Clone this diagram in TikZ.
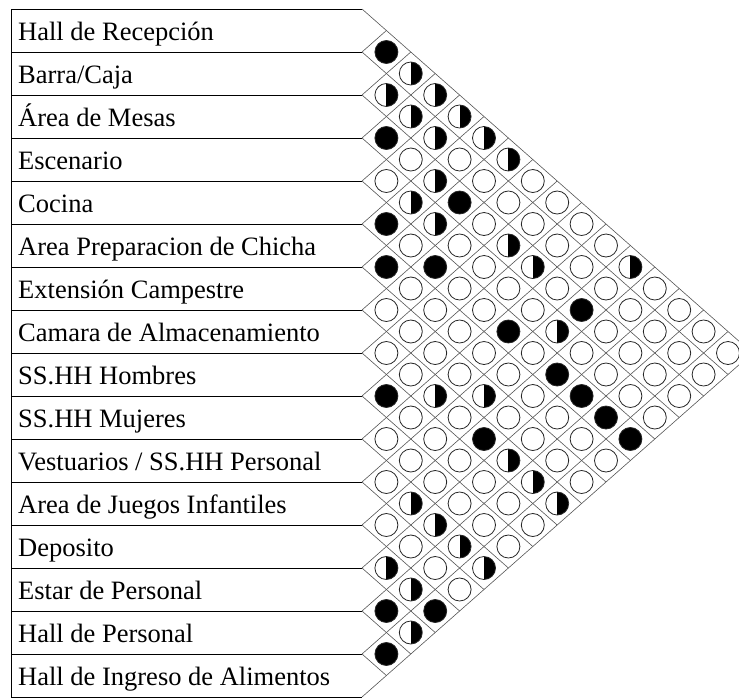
\documentclass[tikz,border=0pt]{standalone}
\usepackage{fontspec}
\setmainfont{Liberation Serif}
\usetikzlibrary{positioning,calc}
\definecolor{GridGray}{HTML}{555555}

\begin{document}
\begin{tikzpicture}[
  x=1pt, y=-1pt,
  rowline/.style={draw=black, line width=0.9pt},
  gridline/.style={draw=GridGray, line width=0.6pt},
  roomtxt/.style={anchor=base west, inner sep=0pt, font=\fontsize{26.5}{30}\selectfont},
  rel0/.style={circle, draw=black!85, fill=white, line width=0.8pt, minimum size=23pt, inner sep=0pt},
  rel1/.style={rel0, path picture={\fill[black] (path picture bounding box.north) rectangle (path picture bounding box.south east);}},
  rel2/.style={rel0, fill=black}
]
\useasboundingbox (0,0) rectangle (739,697);

% filas
\foreach \i in {0,...,16} \coordinate (b\i) at (362,{9+43*\i});
\foreach \i in {0,...,16} \draw[rowline] (11,{9+43*\i}) -- (b\i);
\draw[rowline] (11,9) -- (11,698);

\foreach \t [count=\n] in {Hall de Recepción, Barra/Caja, Área de Mesas, Escenario, Cocina,
  Area Preparacion de Chicha, Extensión Campestre, Camara de Almacenamiento,
  SS.HH Hombres, SS.HH Mujeres, Vestuarios / SS.HH Personal, Area de Juegos Infantiles,
  Deposito, Estar de Personal, Hall de Personal, Hall de Ingreso de Alimentos}
  \node[roomtxt] (r\n) at (18,{43*\n-3}) {\t};

% rombos
\foreach \i in {0,...,16} {
  \draw[gridline] (b\i) -- ++({(16-\i)*24.4},{(16-\i)*21.5});
  \draw[gridline] (b\i) -- ++({\i*24.4},{-\i*21.5});
}

% relaciones: 0 ninguna, 1 media, 2 directa
\foreach \s/\codes in {3/{2}, 4/{1}, 5/{1,1}, 6/{1,1}, 7/{2,1,1}, 8/{0,0,1},
  9/{0,1,0,0}, 10/{1,2,0,0}, 11/{2,1,0,0,0}, 12/{0,0,1,0,0},
  13/{2,2,0,1,0,1}, 14/{0,0,0,0,0,0}, 15/{0,0,0,0,2,0,0}, 16/{0,0,2,1,0,0,0},
  17/{0,0,0,0,0,0,0,0}, 18/{0,0,0,2,0,0,0}, 19/{2,1,1,0,2,0,0}, 20/{0,0,0,0,2,0},
  21/{0,0,2,0,0,2}, 22/{0,0,1,0,0}, 23/{0,0,0,1,0}, 24/{1,0,0,1},
  25/{0,1,0,0}, 26/{0,1,0}, 27/{1,0,1}, 28/{1,0}, 29/{2,2}, 30/{1}, 31/{2}} {
  \foreach \c [count=\n] in \codes {
    \pgfmathtruncatemacro{\k}{2*\n-1+(1-mod(\s,2))}
    \node[rel\c] (c\s-\k) at ({362+24.4*\k},{9+21.5*(\s-1)}) {};
  }
}
\end{tikzpicture}
\end{document}
